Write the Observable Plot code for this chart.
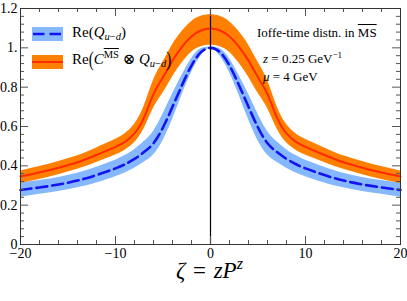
<!DOCTYPE html>
<html>
<head>
<meta charset="utf-8">
<script src="https://cdn.jsdelivr.net/npm/d3@7"></script>
<script src="https://cdn.jsdelivr.net/npm/@observablehq/plot@0.6"></script>
<style>
  html, body { margin: 0; padding: 0; background: #fff; }
  #wrap { position: relative; width: 407px; height: 301px; font-family: "Liberation Serif", "DejaVu Serif", serif; color: #000; }
  #wrap svg { display: block; }
  .ann { position: absolute; white-space: nowrap; }
  .leg { font-size: 15px; line-height: 15px; }
  .note { font-size: 13px; line-height: 13px; }
  .ov { text-decoration: overline; }
  sub, sup { line-height: 0; }
  sub { font-size: 70%; vertical-align: -0.3em; }
  sup { font-size: 70%; vertical-align: 0.55em; }
  .bigp { display: inline-block; transform: scaleY(1.45); }
</style>
</head>
<body>
<div id="wrap"></div>
<script>
// ζ grid (symmetric)
const zeta = [-20,-18,-16,-14,-12,-10,-9,-8,-7,-6,-5,-4,-3,-2,-1,0,1,2,3,4,5,6,7,8,9,10,12,14,16,18,20];

// Re(Q_{u-d}) : central value, lower and upper band
const qMid = [0.277,0.29,0.305,0.325,0.353,0.387,0.408,0.435,0.47,0.515,0.595,0.70,0.81,0.91,0.978,1.0,0.978,0.91,0.81,0.70,0.595,0.515,0.47,0.435,0.408,0.387,0.353,0.325,0.305,0.29,0.277];
const qLo  = [0.240,0.255,0.269,0.288,0.313,0.345,0.364,0.388,0.418,0.455,0.527,0.635,0.76,0.875,0.958,0.996,0.958,0.875,0.76,0.635,0.527,0.455,0.418,0.388,0.364,0.345,0.313,0.288,0.269,0.255,0.240];
const qHi  = [0.314,0.325,0.341,0.362,0.393,0.429,0.452,0.482,0.522,0.575,0.663,0.765,0.86,0.945,0.995,1.003,0.995,0.945,0.86,0.765,0.663,0.575,0.522,0.482,0.452,0.429,0.393,0.362,0.341,0.325,0.314];

// Re(C^MS ⊗ Q_{u-d}) : central value, lower and upper band
const cMid = [0.346,0.366,0.39,0.418,0.455,0.496,0.522,0.565,0.645,0.765,0.85,0.935,1.005,1.058,1.088,1.098,1.088,1.058,1.005,0.935,0.85,0.765,0.645,0.565,0.522,0.496,0.455,0.418,0.39,0.366,0.346];
const cLo  = [0.31,0.331,0.355,0.382,0.417,0.455,0.479,0.517,0.588,0.693,0.77,0.852,0.923,0.978,1.006,1.013,1.006,0.978,0.923,0.852,0.77,0.693,0.588,0.517,0.479,0.455,0.417,0.382,0.355,0.331,0.31];
const cHi  = [0.374,0.396,0.422,0.451,0.491,0.535,0.563,0.612,0.702,0.835,0.928,1.015,1.083,1.133,1.16,1.168,1.16,1.133,1.083,1.015,0.928,0.835,0.702,0.612,0.563,0.535,0.491,0.451,0.422,0.396,0.374];

// ticks
const xMajor = [-20,-10,0,10,20];
const yMajor = [0,0.2,0.4,0.6,0.8,1.0,1.2];
const yLabels = ["0","0.2","0.4","0.6","0.8","1.","1.2"];
const xMinor = d3.range(-20, 20.001, 2).filter(v => Math.abs(v % 10) > 1e-9);
const yMinor = d3.range(0, 1.2001, 0.04).map(v => +v.toFixed(2)).filter(v => !yMajor.some(m => Math.abs(m - v) < 1e-6));

const rows = zeta.map((z, i) => ({z, qMid: qMid[i], qLo: qLo[i], qHi: qHi[i], cMid: cMid[i], cLo: cLo[i], cHi: cHi[i]}));

const W = 407, H = 301, mL = 20, mR = 7, mT = 8, mB = 57;
const fw = W - mL - mR, fh = H - mT - mB;
const tickCol = "#555";
const curve = "natural";

const chart = Plot.plot({
  width: W, height: H,
  marginLeft: mL, marginRight: mR, marginTop: mT, marginBottom: mB,
  style: {fontFamily: "Liberation Serif, serif", fontSize: "14px", color: "#000", background: "#fff"},
  x: {domain: [-20, 20], axis: null},
  y: {domain: [0, 1.2], axis: null},
  marks: [
    Plot.areaY(rows, {x: "z", y1: "qLo", y2: "qHi", fill: "#85b8ff", curve}),
    Plot.areaY(rows, {x: "z", y1: "cLo", y2: "cHi", fill: "#ff8000", curve}),
    Plot.line(rows, {x: "z", y: "qMid", stroke: "#1414f0", strokeWidth: 2.6, strokeDasharray: "11,5", curve}),
    Plot.line(rows, {x: "z", y: "cMid", stroke: "#ff2a00", strokeWidth: 2, curve}),
    Plot.ruleX([0], {stroke: "#000", strokeWidth: 1.2}),
    // inward ticks
    Plot.ruleX(xMajor, {x: d => d, insetTop: fh - 8, stroke: tickCol}),
    Plot.ruleX(xMinor, {x: d => d, insetTop: fh - 4, stroke: tickCol}),
    Plot.ruleX(xMajor, {x: d => d, insetBottom: fh - 8, stroke: tickCol}),
    Plot.ruleX(xMinor, {x: d => d, insetBottom: fh - 4, stroke: tickCol}),
    Plot.ruleY(yMajor, {y: d => d, insetRight: fw - 8, stroke: tickCol}),
    Plot.ruleY(yMinor, {y: d => d, insetRight: fw - 4, stroke: tickCol}),
    Plot.ruleY(yMajor, {y: d => d, insetLeft: fw - 8, stroke: tickCol}),
    Plot.ruleY(yMinor, {y: d => d, insetLeft: fw - 4, stroke: tickCol}),
    Plot.frame({stroke: "#333", strokeWidth: 1}),
    Plot.axisX(xMajor, {tickSize: 0, tickPadding: 4, fontSize: 14, label: null, tickFormat: d => d < 0 ? "\u2212" + (-d) : String(d)}),
    Plot.axisY(yMajor, {tickSize: 0, tickPadding: 3, fontSize: 14, label: null, tickFormat: d => yLabels[yMajor.indexOf(d)]})
  ]
});

const wrap = document.getElementById("wrap");
wrap.appendChild(chart);

function add(html, cls, left, top) {
  const d = document.createElement("div");
  d.className = "ann " + cls;
  d.style.left = left + "px";
  d.style.top = top + "px";
  d.innerHTML = html;
  wrap.appendChild(d);
  return d;
}

// legend swatches
add(`<svg width="31" height="14"><rect width="31" height="14" fill="#85b8ff"/><line x1="1" x2="30" y1="7" y2="7" stroke="#1414f0" stroke-width="2.6" stroke-dasharray="11.5,5"/></svg>`, "", 32, 27);
add(`<svg width="31" height="14"><rect width="31" height="14" fill="#ff8000"/><line x1="0" x2="31" y1="7" y2="7" stroke="#ff2a00" stroke-width="2"/></svg>`, "", 32, 55);
add(`Re(<i>Q</i><sub><i>u</i>\u2212<i>d</i></sub>)`, "leg", 72, 25);
add(`Re<span class="bigp">(</span><i>C</i><sup><span class="ov">MS</span></sup> \u2297 <i>Q</i><sub><i>u</i>\u2212<i>d</i></sub><span class="bigp">)</span>`, "leg", 72, 51.5);

// annotations
add(`Ioffe-time distn. in <span class="ov">MS</span>`, "note", 257, 26);
add(`<i>z</i> = 0.25 GeV<sup>\u22121</sup>`, "note", 263, 52);
add(`<i>\u03bc</i> = 4 GeV`, "note", 263, 69.5);

// x-axis title
const xl = add(`<i>\u03b6</i>\u2004=\u2004<i>zP</i><sup><i>z</i></sup>`, "", 0, 264);
xl.style.fontSize = "23px";
xl.style.lineHeight = "12px";
xl.style.width = W + "px";
xl.style.textAlign = "center";
xl.style.left = "6px";
</script>
</body>
</html>
